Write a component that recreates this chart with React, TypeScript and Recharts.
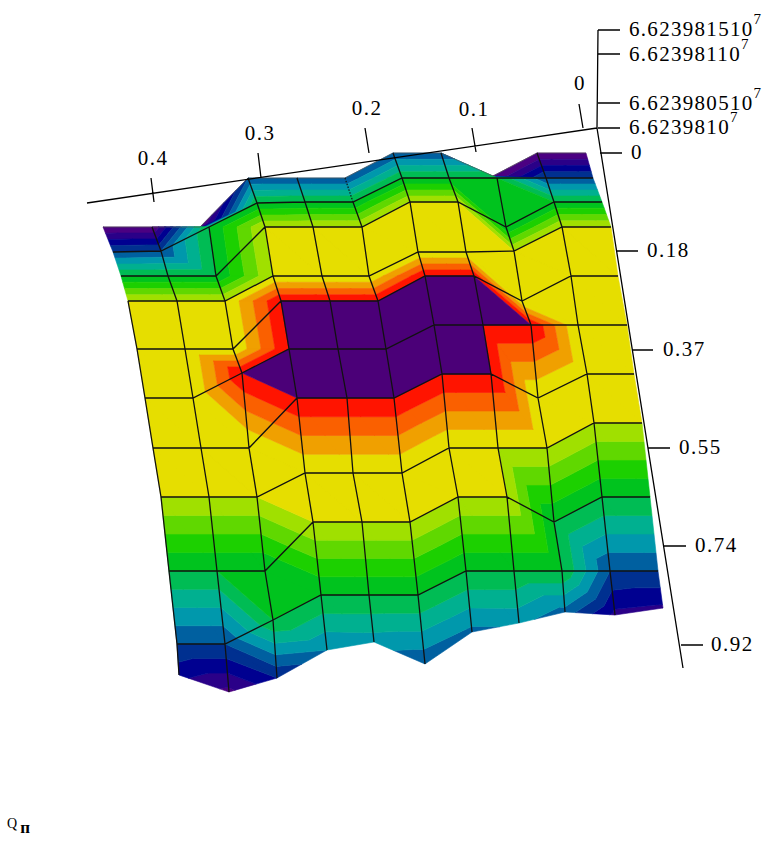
import { ScatterChart, Scatter, XAxis, YAxis } from "recharts";

// mesh vertices, rows top to bottom, 11 points per row
const GRID_X = [
  [103, 152, 200, 248, 297, 345, 393, 441, 493, 537, 586],
  [113, 161, 209, 257, 305, 353, 402, 449, 497, 546, 593],
  [121, 168, 216, 265, 313, 362, 410, 458, 506, 554, 602],
  [128, 177, 225, 273, 322, 369, 418, 466, 514, 562, 611],
  [137, 185, 233, 281, 330, 378, 425, 474, 522, 571, 618],
  [145, 193, 242, 289, 338, 386, 434, 483, 531, 578, 627],
  [153, 201, 249, 297, 347, 394, 442, 491, 538, 587, 634],
  [161, 209, 257, 305, 353, 402, 449, 498, 547, 594, 642],
  [169, 217, 265, 313, 362, 410, 458, 507, 554, 602, 650],
  [177, 225, 273, 321, 369, 418, 466, 514, 562, 610, 658],
  [179, 229, 277, 327, 374, 425, 472, 519, 565, 615, 663],
];
const GRID_Y = [
  [227, 227, 227, 178, 178, 178, 153, 153, 176, 153, 153],
  [252, 251, 227, 203, 202, 202, 178, 178, 178, 178, 178],
  [276, 276, 276, 227, 227, 227, 202, 202, 227, 202, 202],
  [301, 301, 301, 276, 276, 276, 252, 252, 251, 227, 227],
  [349, 349, 349, 301, 301, 301, 276, 276, 301, 276, 276],
  [398, 398, 373, 349, 349, 349, 325, 325, 325, 325, 325],
  [448, 448, 448, 398, 398, 398, 374, 374, 398, 374, 374],
  [497, 497, 497, 473, 473, 473, 448, 448, 448, 423, 423],
  [571, 571, 571, 522, 522, 522, 497, 497, 522, 497, 497],
  [644, 644, 620, 595, 595, 595, 571, 571, 571, 571, 571],
  [675, 692, 678, 650, 642, 664, 632, 623, 612, 615, 608],
];
// colour level at each vertex
const LEVELS = [
  [0, 0, 8, 4, 4, 4, 4, 4, 8, 0, 0],
  [4, 4, 8, 8, 8, 8, 8, 8, 8, 4, 4],
  [8, 8, 8, 12, 12, 12, 12, 12, 8, 8, 8],
  [12, 12, 12, 12, 12, 12, 12, 12, 12, 12, 12],
  [12, 12, 12, 16, 16, 16, 16, 16, 12, 12, 12],
  [12, 12, 16, 16, 16, 16, 16, 16, 16, 12, 12],
  [12, 12, 12, 16, 16, 16, 16, 16, 12, 12, 12],
  [12, 12, 12, 12, 12, 12, 12, 12, 12, 12, 12],
  [8, 8, 8, 12, 12, 12, 12, 12, 8, 8, 8],
  [4, 4, 8, 8, 8, 8, 8, 8, 8, 4, 4],
  [2.3, 0.7, 3, 5, 5.5, 4.2, 4.7, 5.2, 4.6, 1.7, 1.8],
];
// the two folded cells on the back edge start from purple
const FOLDED_CELLS = [2, 8];

const BAND_COLORS = [
  "#4b0082", "#2a0088", "#000090", "#003090", "#0060a0", "#0098ac",
  "#00b090", "#00bc54", "#00c31e", "#1cd000", "#60d800", "#a0e000",
  "#e6de00", "#f0a000", "#fa6000", "#ff1400", "#4b0078",
];

const X_TICKS = ["0.4", "0.3", "0.2", "0.1", "0"];
const X_TICK_A = [[151, 178], [258, 153], [365, 128], [472, 128], [579, 104]];
const X_TICK_B = [[154, 202], [261, 178], [369, 153], [476, 152], [583, 128]];
const X_LABEL_AT = [[153, 165], [260, 140], [367, 115], [474, 116], [580, 90]];

const Y_TICKS = ["0", "0.18", "0.37", "0.55", "0.74", "0.92"];
const Y_TICK_A = [[600, 153], [617, 251], [632, 350], [648, 448], [664, 546], [681, 645]];
const Y_TICK_B = [[622, 153], [638, 251], [653, 350], [670, 448], [686, 546], [703, 645]];
const Y_LABEL_AT = [[631, 159], [647, 257], [663, 356], [679, 454], [695, 552], [711, 651]];

const Z_TICKS = ["6.623981510", "6.62398110", "6.623980510", "6.6239810"];
const Z_TICK_Y = [30, 54, 103, 128];
const Z_LABEL_AT = [[629, 36], [629, 61], [629, 110], [629, 134]];

type V = { x: number; y: number; v: number };
type P = { x: number; y: number };

function clip(poly: V[], limit: number, keepAbove: boolean) {
  const out: V[] = [];
  const inside = (p: V) => (keepAbove ? p.v >= limit : p.v <= limit);
  poly.forEach((p, i) => {
    const q = poly[(i + 1) % poly.length];
    if (inside(p)) out.push(p);
    if (inside(p) !== inside(q)) {
      const t = (limit - p.v) / (q.v - p.v);
      out.push({ x: p.x + (q.x - p.x) * t, y: p.y + (q.y - p.y) * t, v: limit });
    }
  });
  return out;
}

const bandPolys: P[][][] = BAND_COLORS.map(() => []);

function addTriangle(tri: V[]) {
  const vs = tri.map((p) => p.v);
  const lo = Math.min(...vs);
  const hi = Math.max(...vs);
  BAND_COLORS.forEach((_, b) => {
    if (lo >= b + 1) return;
    if (hi <= b && !(lo === hi && lo === b)) return;
    if (hi < b) return;
    let poly = clip(tri, b, true);
    if (b < BAND_COLORS.length - 1) poly = clip(poly, b + 1, false);
    if (poly.length > 2) bandPolys[b].push(poly.map((p) => ({ x: p.x, y: p.y })));
  });
}

for (let r = 0; r < GRID_X.length - 1; r++) {
  for (let c = 0; c < GRID_X[r].length - 1; c++) {
    const at = (i: number, j: number) => ({ x: GRID_X[i][j], y: GRID_Y[i][j], v: LEVELS[i][j] });
    const a = r === 0 && FOLDED_CELLS.includes(c) ? { ...at(r, c), v: 0 } : at(r, c);
    addTriangle([a, at(r, c + 1), at(r + 1, c + 1)]);
    addTriangle([a, at(r + 1, c + 1), at(r + 1, c)]);
  }
}

const vertex = (r: number, c: number) => ({ x: GRID_X[r][c], y: GRID_Y[r][c] });
const rowsOf = (from: number) => GRID_X.map((_, r) => r).filter((r) => r >= from);

// mesh: inner rows across, columns down (outer right column has no line)
const meshLines: P[][] = [];
for (let r = 1; r < GRID_X.length - 1; r++) {
  meshLines.push(GRID_X[r].map((_, c) => vertex(r, c)));
}
for (let c = 1; c < 10; c++) {
  // folded columns and the dotted one only start at row 1
  const from = FOLDED_CELLS.includes(c) || c === 5 ? 1 : 0;
  meshLines.push(rowsOf(from).map((r) => vertex(r, c)));
}
meshLines.push(rowsOf(3).map((r) => vertex(r, 0)));

const backEdge = GRID_X[0].map((_, c) => vertex(0, c));
const dottedEdge = [vertex(0, 5), vertex(1, 5)];

const axisLines: P[][] = [
  [{ x: 87, y: 203 }, { x: 597, y: 128 }],
  [{ x: 597, y: 128 }, { x: 683, y: 668 }],
  [{ x: 598, y: 30 }, { x: 597, y: 128 }],
];
X_TICK_A.forEach((a, i) => axisLines.push([{ x: a[0], y: a[1] }, { x: X_TICK_B[i][0], y: X_TICK_B[i][1] }]));
Y_TICK_A.forEach((a, i) => axisLines.push([{ x: a[0], y: a[1] }, { x: Y_TICK_B[i][0], y: Y_TICK_B[i][1] }]));
Z_TICK_Y.forEach((y) => axisLines.push([{ x: 598, y }, { x: 620, y }]));

function chunkPath(points: P[], sizes: number[], close: boolean) {
  let d = "";
  let i = 0;
  sizes.forEach((n) => {
    d += points.slice(i, i + n).map((p, k) => `${k ? "L" : "M"}${p.x} ${p.y}`).join("") + (close ? "Z" : "");
    i += n;
  });
  return d;
}

const FONT = "'Liberation Serif', 'Times New Roman', serif";

const plainLabels = [
  ...X_TICKS.map((text, i) => ({ x: X_LABEL_AT[i][0], y: X_LABEL_AT[i][1], text, anchor: "middle" })),
  ...Y_TICKS.map((text, i) => ({ x: Y_LABEL_AT[i][0], y: Y_LABEL_AT[i][1], text, anchor: "start" })),
];
const zLabels = Z_TICKS.map((text, i) => ({ x: Z_LABEL_AT[i][0], y: Z_LABEL_AT[i][1], text }));

export default function App() {
  return (
    <div style={{ position: "absolute", left: 0, top: 0, width: 769, height: 844 }}>
      <ScatterChart width={769} height={844} margin={{ top: 0, right: 0, bottom: 0, left: 0 }}>
        <XAxis type="number" dataKey="x" domain={[0, 769]} hide />
        <YAxis type="number" dataKey="y" domain={[0, 844]} reversed hide />

        {BAND_COLORS.map((color, b) => (
          <Scatter
            key={b}
            data={bandPolys[b].flat()}
            isAnimationActive={false}
            shape={() => <g />}
            line={(p: any) => (
              <path
                d={chunkPath(p.points, bandPolys[b].map((q) => q.length), true)}
                fill={color}
                stroke={color}
                strokeWidth={0.6}
              />
            )}
          />
        ))}

        <Scatter
          data={backEdge}
          isAnimationActive={false}
          shape={() => <g />}
          line={{ stroke: "#555", strokeWidth: 0.7 }}
        />
        <Scatter
          data={dottedEdge}
          isAnimationActive={false}
          shape={() => <g />}
          line={{ stroke: "#111", strokeWidth: 1.2, strokeDasharray: "1.5 1.5" }}
        />
        <Scatter
          data={meshLines.flat()}
          isAnimationActive={false}
          shape={() => <g />}
          line={(p: any) => (
            <path
              d={chunkPath(p.points, meshLines.map((l) => l.length), false)}
              fill="none"
              stroke="#111"
              strokeWidth={1.3}
            />
          )}
        />
        <Scatter
          data={axisLines.flat()}
          isAnimationActive={false}
          shape={() => <g />}
          line={(p: any) => (
            <path
              d={chunkPath(p.points, axisLines.map((l) => l.length), false)}
              fill="none"
              stroke="#000"
              strokeWidth={1.3}
            />
          )}
        />

        <Scatter
          data={plainLabels}
          isAnimationActive={false}
          shape={(p: any) => (
            <text x={p.cx} y={p.cy} textAnchor={p.payload.anchor} fontFamily={FONT} fontSize={21} letterSpacing={1.5} fill="#000">
              {p.payload.text}
            </text>
          )}
        />
        <Scatter
          data={zLabels}
          isAnimationActive={false}
          shape={(p: any) => (
            <text x={p.cx} y={p.cy} fontFamily={FONT} fontSize={21} letterSpacing={1.3} fill="#000">
              {p.payload.text}
              <tspan dy={-12} fontSize={15}>7</tspan>
            </text>
          )}
        />
        <Scatter
          data={[{ x: 7, y: 828 }]}
          isAnimationActive={false}
          shape={(p: any) => (
            <text x={p.cx} y={p.cy} fontFamily={FONT} fontSize={14} fill="#000">
              Q
              <tspan dx={3} dy={5} fontSize={17} fontWeight="bold">п</tspan>
            </text>
          )}
        />
      </ScatterChart>
    </div>
  );
}
